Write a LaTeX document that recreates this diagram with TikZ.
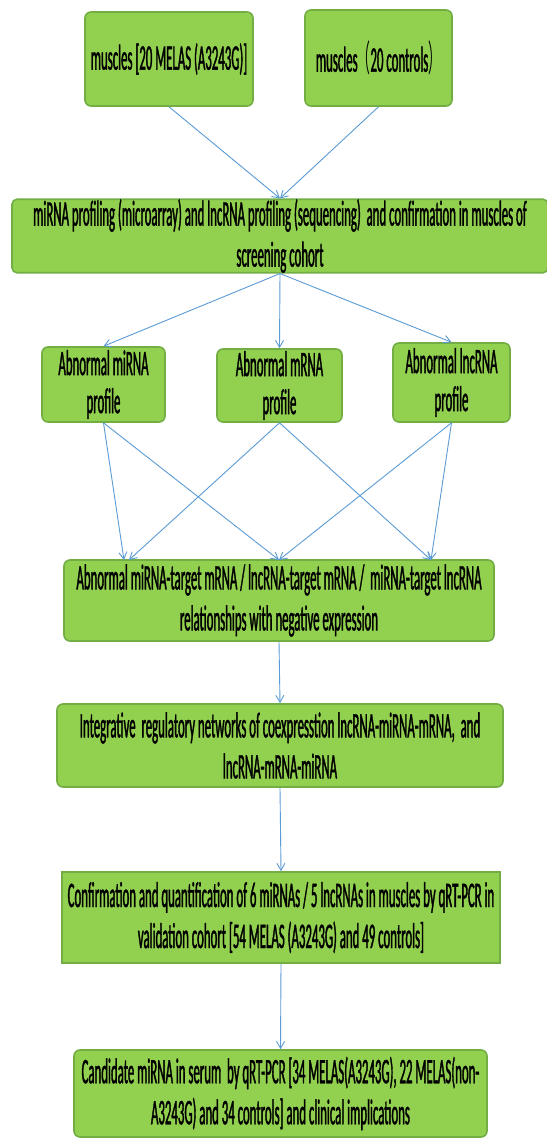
\documentclass[tikz,border=0pt]{standalone}
\usepackage{fontspec}
\setmainfont{Carlito}[FakeStretch=0.356,FakeBold=1]
\newfontfamily\cjk{Noto Sans CJK SC}[FakeStretch=0.356]
\usetikzlibrary{arrows.meta}
\definecolor{boxfill}{HTML}{92D050}
\definecolor{boxline}{HTML}{72AE44}
\definecolor{arrowblue}{HTML}{5B9BD5}
\tikzset{
  box/.style={draw=boxline, fill=boxfill, line width=1.6pt, rounded corners=6pt,
    inner sep=0pt, align=center, text=black,
    font={\fontsize{36}{41}\selectfont}},
  sqbox/.style={box, rounded corners=0pt},
  conn/.style={draw=arrowblue, line width=0.9pt, -{Straight Barb[length=7pt,width=8pt]}}
}
\begin{document}
\begin{tikzpicture}[x=1pt,y=-1pt]
\useasboundingbox (0,0) rectangle (546,1139);
\fill[white] (0,0) rectangle (546,1139);

\node[box, minimum width=168pt, minimum height=94pt] (b1) at (169,59) {muscles [20 MELAS (A3243G)]};
\node[box, minimum width=147pt, minimum height=96pt] (b2) at (378.5,58) {muscles{\cjk （}20 controls{\cjk ）}};
\node[box, rounded corners=5pt, minimum width=536pt, minimum height=66pt] (b3) at (280,236)
  {miRNA profiling (microarray) and lncRNA profiling (sequencing)~ and confirmation in muscles of\\screening cohort};

\node[box, minimum width=123pt, minimum height=75pt, font={\fontsize{36}{38}\selectfont}] (m1) at (103.5,384.5) {Abnormal miRNA\\profile};
\node[box, minimum width=125pt, minimum height=73pt, font={\fontsize{36}{38}\selectfont}] (m2) at (279.5,385.5) {Abnormal mRNA\\profile};
\node[box, minimum width=117pt, minimum height=79pt, font={\fontsize{36}{38}\selectfont}] (m3) at (451.5,382.5) {Abnormal lncRNA\\profile};

\node[box, minimum width=430pt, minimum height=81pt] (r) at (279,600.5)
  {Abnormal miRNA-target mRNA / lncRNA-target mRNA /~ miRNA-target lncRNA\\relationships with negative expression};
\node[box, minimum width=446pt, minimum height=83pt] (in) at (280,745.5)
  {Integrative~ regulatory networks of coexpresstion lncRNA-miRNA-mRNA,~ and\\lncRNA-mRNA-miRNA};
\node[sqbox, minimum width=438pt, minimum height=91pt] (c) at (281,917.5)
  {Confirmation and quantification of 6 miRNAs / 5 lncRNAs in muscles by qRT-PCR in\\validation cohort [54 MELAS (A3243G) and 49 controls]};
\node[box, minimum width=413pt, minimum height=87pt] (d) at (280.5,1093.5)
  {Candidate miRNA in serum~ by qRT-PCR [34 MELAS(A3243G), 22 MELAS(non-\\A3243G) and 34 controls] and clinical implications};

\coordinate (t1) at (124,560);
\coordinate (t2) at (129,560);
\coordinate (t3) at (279,560);
\coordinate (t4) at (431,560);

\draw[conn] (b1.south) -- (b3.north);
\draw[conn] (b2.south) -- (b3.north);
\draw[conn] (b3.south) -- (m1.north);
\draw[conn] (b3.south) -- (m2.north);
\draw[conn] (b3.south) -- (m3.north);
\draw[conn] (m1.south) -- (t1);
\draw[conn] (m1.south) -- (t3);
\draw[conn] (m2.south) -- (t2);
\draw[conn] (m2.south) -- (t4);
\draw[conn] (m3.south) -- (t3);
\draw[conn] (m3.south) -- (t4);
\draw[conn] (r.south) -- (in.north);
\draw[conn] (in.south) -- (c.north);
\draw[conn] (c.south) -- (d.north);
\end{tikzpicture}
\end{document}
